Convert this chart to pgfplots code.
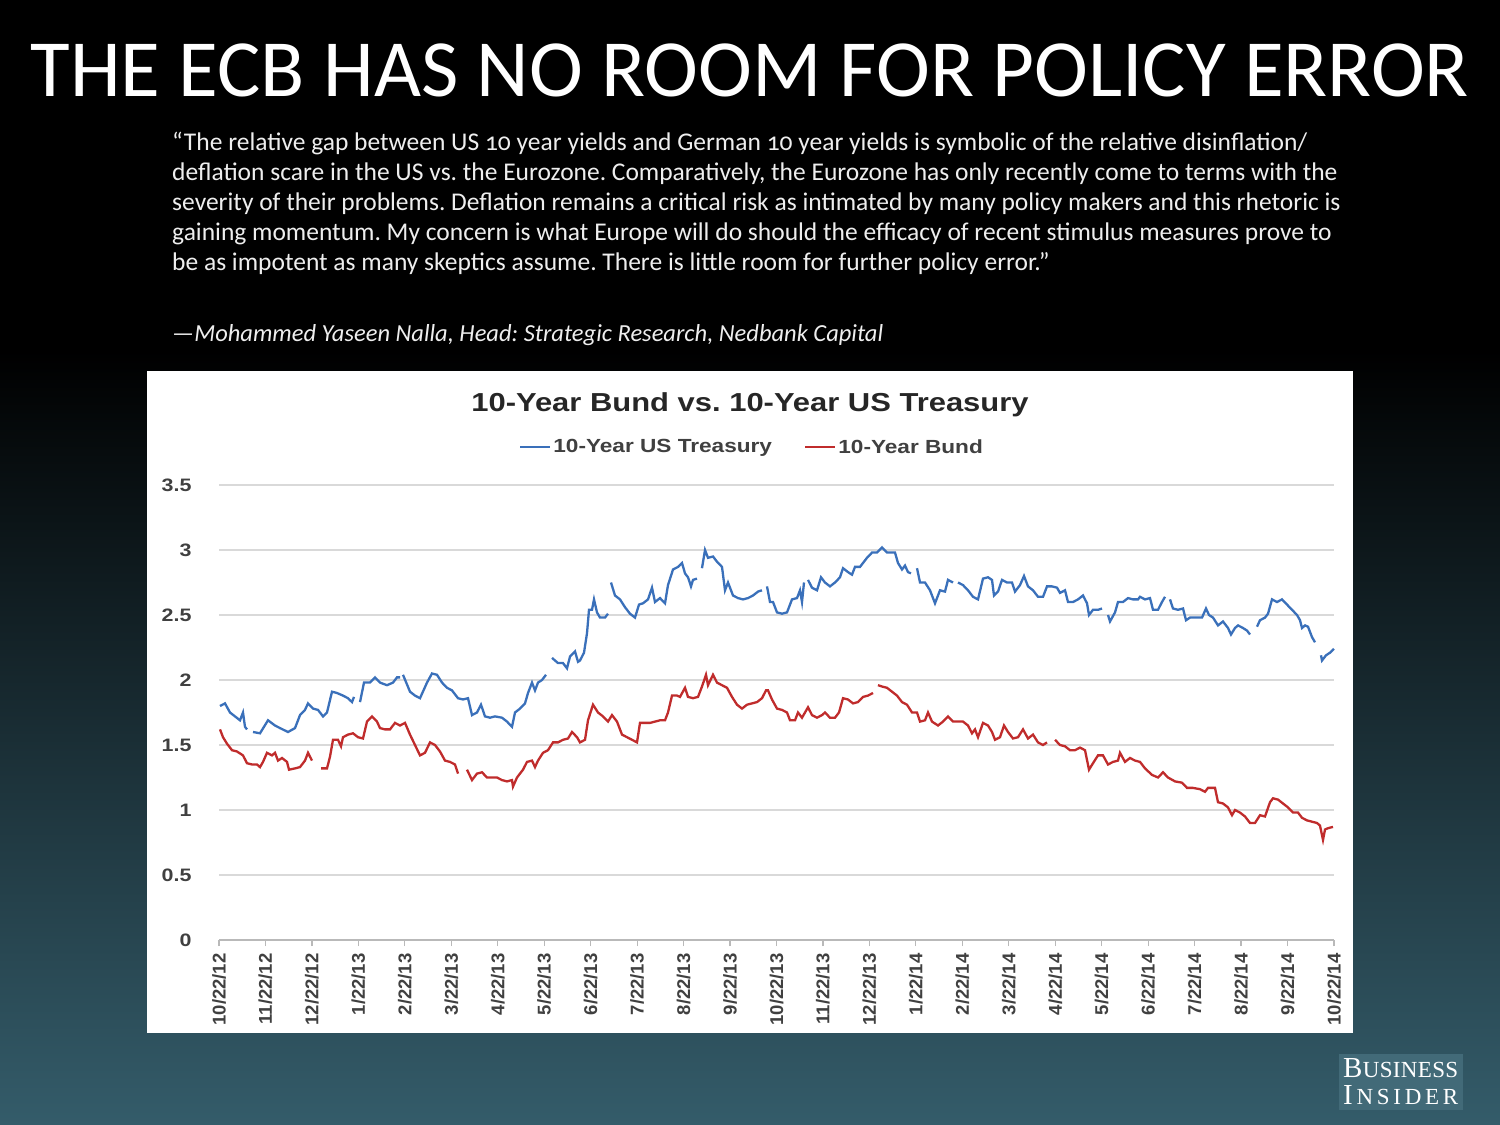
\documentclass[border=0pt]{standalone}
\usepackage{fontspec}
\setmainfont{Carlito}
\newfontfamily\quotefont{Carlito}[Numbers=OldStyle]
\newfontfamily\chartfont{Liberation Sans}[FakeStretch=1.19]
\newfontfamily\xfont{Liberation Sans}
\newfontfamily\bifont{Liberation Serif}
\usepackage{pgfplots}
\pgfplotsset{compat=1.18}
\definecolor{bgbottom}{RGB}{52,92,106}
\definecolor{logobox}{RGB}{66,106,120}
\definecolor{ustblue}{RGB}{58,112,186}
\definecolor{bundred}{RGB}{192,44,44}
\definecolor{textgray}{RGB}{64,64,64}
\definecolor{titlegray}{RGB}{38,38,38}
\definecolor{quotegray}{RGB}{238,238,238}
\frenchspacing
\begin{document}
\begin{tikzpicture}[x=1pt,y=1pt]
\fill[black] (0,0) rectangle (1500,1125);
\shade[top color=black,bottom color=bgbottom] (0,0) rectangle (1500,775);
\node[anchor=base, text=white, font=\fontsize{81.2}{81.2}\selectfont, inner sep=0] at (750,1028) {THE ECB HAS NO ROOM FOR POLICY ERROR};
\begin{scope}[every node/.style={anchor=base west, inner sep=0, text=quotegray, font=\quotefont\fontsize{25.5}{25.5}\selectfont}]
\node at (172,974) {“The relative gap between US 10 year yields and German 10 year yields is symbolic of the relative disinflation/};
\node at (172,944) {deflation scare in the US vs. the Eurozone. Comparatively, the Eurozone has only recently come to terms with the};
\node at (172,914) {severity of their problems. Deflation remains a critical risk as intimated by many policy makers and this rhetoric is};
\node at (172,884) {gaining momentum. My concern is what Europe will do should the efficacy of recent stimulus measures prove to};
\node at (172,854) {be as impotent as many skeptics assume. There is little room for further policy error.”};
\node[font=\quotefont\itshape\fontsize{24.5}{24.5}\selectfont] at (172,783) {—Mohammed Yaseen Nalla, Head: Strategic Research, Nedbank Capital};
\end{scope}
\fill[white] (147,92) rectangle (1353,754);
\node[anchor=base, inner sep=0, text=titlegray, font=\chartfont\bfseries\fontsize{26}{26}\selectfont] at (750,713) {10-Year Bund vs. 10-Year US Treasury};
\begin{axis}[
  at={(219pt,185pt)}, anchor=south west,
  scale only axis, width=1115pt, height=455pt,
  xmin=0, xmax=1115, ymin=0, ymax=3.5,
  ytick={0,0.5,1,1.5,2,2.5,3,3.5},
  xtick={0,46.4583,92.9167,139.375,185.8333,232.2917,278.75,325.2083,371.6667,418.125,464.5833,511.0417,557.5,603.9583,650.4167,696.875,743.3333,789.7917,836.25,882.7083,929.1667,975.625,1022.0833,1068.5417,1115},
  xticklabels={10/22/12,11/22/12,12/22/12,1/22/13,2/22/13,3/22/13,4/22/13,5/22/13,6/22/13,7/22/13,8/22/13,9/22/13,10/22/13,11/22/13,12/22/13,1/22/14,2/22/14,3/22/14,4/22/14,5/22/14,6/22/14,7/22/14,8/22/14,9/22/14,10/22/14},
  ymajorgrids, grid style={draw=gray!30, line width=1.2pt},
  axis x line*=bottom, axis y line*=left,
  x axis line style={draw=gray!55, line width=1.2pt},
  y axis line style={draw=none},
  tick align=outside, major tick length=6pt,
  xtick style={draw=gray!55, line width=1.2pt},
  ytick style={draw=none},
  /pgf/number format/assume math mode=true,
  yticklabel style={font=\chartfont\bfseries\fontsize{18}{18}\selectfont, text=textgray, xshift=-18pt},
  xticklabel shift=4pt,
  xticklabel style={rotate=90, anchor=east, font=\xfont\bfseries\fontsize{18.5}{18.5}\selectfont, text=textgray},
  unbounded coords=jump,
  clip=false,
  legend columns=2,
  legend style={at={(0.478,1.0835)}, anchor=center, draw=none, fill=none, font=\chartfont\bfseries\fontsize{19}{19}\selectfont, text=textgray, /tikz/every even column/.append style={column sep=30pt}},
  legend image code/.code={\draw[#1] (0pt,0pt) -- (30pt,0pt);},
]
\addplot[ustblue, line width=2.3pt] table {
x y
1 1.80
6 1.82
11 1.75
16 1.72
21 1.69
24 1.75
26 1.64
28 1.62
29 nan
34 1.60
41 1.59
49 1.69
56 1.65
61 1.63
69 1.60
76 1.63
81 1.73
86 1.77
89 1.82
94 1.78
99 1.77
104 1.72
108 1.75
113 1.91
118 1.90
124 1.88
129 1.86
133 1.83
135 1.87
137 nan
141 1.83
145 1.98
151 1.98
156 2.02
161 1.98
168 1.96
174 1.98
178 2.02
181 2.02
182 nan
184 2.04
191 1.91
196 1.88
201 1.86
208 1.98
213 2.05
218 2.04
223 1.98
228 1.94
233 1.92
239 1.86
244 1.85
249 1.86
253 1.73
258 1.75
262 1.81
266 1.72
271 1.71
276 1.72
283 1.71
288 1.68
293 1.64
296 1.75
301 1.78
306 1.82
309 1.90
313 1.98
316 1.92
319 1.98
323 2.00
327 2.04
330 nan
333 2.17
339 2.13
344 2.13
348 2.09
351 2.18
356 2.22
359 2.14
361 2.15
365 2.21
368 2.36
370 2.54
373 2.54
375 2.62
378 2.52
381 2.48
386 2.48
389 2.51
390 nan
392 2.75
396 2.65
401 2.62
406 2.56
411 2.51
416 2.48
420 2.58
424 2.59
429 2.62
433 2.71
436 2.60
441 2.63
446 2.59
449 2.73
454 2.85
459 2.87
463 2.90
466 2.82
469 2.79
472 2.72
474 2.77
478 2.78
480 nan
483 2.86
486 3.00
489 2.94
494 2.95
498 2.91
503 2.87
506 2.69
509 2.75
514 2.65
519 2.63
524 2.62
529 2.63
534 2.65
539 2.68
543 2.69
545 nan
548 2.72
551 2.60
554 2.60
558 2.52
563 2.51
568 2.52
573 2.62
578 2.63
581 2.69
583 2.60
585 2.75
587 nan
589 2.77
593 2.71
598 2.69
602 2.79
606 2.75
611 2.72
616 2.75
621 2.79
624 2.86
629 2.83
633 2.81
636 2.87
641 2.87
644 2.90
648 2.94
653 2.98
658 2.98
663 3.02
668 2.98
673 2.98
676 2.98
679 2.90
683 2.85
686 2.88
689 2.83
692 2.82
695 nan
698 2.86
701 2.75
706 2.75
711 2.69
716 2.59
721 2.69
726 2.68
729 2.77
734 2.75
736 nan
739 2.75
744 2.73
749 2.69
754 2.64
759 2.62
764 2.78
769 2.79
773 2.77
775 2.65
779 2.68
783 2.77
788 2.75
793 2.75
796 2.68
801 2.73
805 2.80
809 2.72
814 2.69
819 2.64
824 2.64
828 2.72
833 2.72
838 2.71
841 2.67
846 2.69
849 2.60
854 2.60
859 2.62
864 2.65
868 2.59
870 2.50
874 2.54
879 2.54
883 2.55
886 nan
889 2.50
891 2.45
896 2.52
899 2.60
904 2.60
909 2.63
914 2.62
919 2.62
921 2.64
926 2.62
931 2.63
934 2.54
939 2.54
943 2.60
946 2.64
948 nan
951 2.62
954 2.55
959 2.54
964 2.55
967 2.46
971 2.48
976 2.48
983 2.48
987 2.55
990 2.50
994 2.48
999 2.42
1004 2.45
1009 2.40
1012 2.35
1016 2.40
1019 2.42
1024 2.40
1028 2.38
1031 2.35
1034 nan
1038 2.41
1041 2.46
1046 2.48
1049 2.51
1053 2.62
1058 2.60
1063 2.62
1068 2.58
1073 2.54
1078 2.50
1081 2.46
1083 2.40
1086 2.42
1089 2.41
1093 2.33
1096 2.29
1099 nan
1102 2.19
1103 2.15
1107 2.19
1111 2.21
1115 2.24
};
\addlegendentry{10-Year US Treasury}
\addplot[bundred, line width=2.3pt] table {
x y
1 1.62
4 1.56
8 1.51
13 1.46
18 1.45
24 1.42
28 1.36
33 1.35
38 1.35
41 1.33
44 1.37
48 1.44
53 1.42
56 1.44
59 1.38
63 1.40
68 1.37
70 1.31
76 1.32
81 1.33
86 1.38
89 1.44
93 1.38
97 nan
102 1.32
108 1.32
111 1.41
114 1.54
119 1.54
122 1.49
124 1.56
129 1.58
134 1.59
139 1.56
144 1.55
148 1.68
153 1.72
158 1.68
161 1.63
166 1.62
171 1.62
176 1.67
181 1.65
186 1.67
191 1.58
196 1.50
201 1.42
206 1.44
211 1.52
216 1.50
221 1.45
226 1.38
231 1.37
236 1.35
239 1.28
243 nan
248 1.31
253 1.23
258 1.28
263 1.29
268 1.25
273 1.25
278 1.25
283 1.23
288 1.22
293 1.23
294 1.18
298 1.25
301 1.28
304 1.31
308 1.37
313 1.38
316 1.33
319 1.38
324 1.44
329 1.46
334 1.52
339 1.52
344 1.54
349 1.55
353 1.60
358 1.56
361 1.52
366 1.54
369 1.69
374 1.81
379 1.75
384 1.72
389 1.68
393 1.73
398 1.68
403 1.58
408 1.56
413 1.54
418 1.52
421 1.67
426 1.67
431 1.67
436 1.68
441 1.69
446 1.69
449 1.75
453 1.88
458 1.88
461 1.87
466 1.94
469 1.87
474 1.86
479 1.87
483 1.95
487 2.04
489 1.96
494 2.04
498 1.98
503 1.96
508 1.94
513 1.87
518 1.81
523 1.78
528 1.81
533 1.82
538 1.83
543 1.86
547 1.92
549 1.92
553 1.85
558 1.78
563 1.77
568 1.75
571 1.69
576 1.69
579 1.75
583 1.71
586 1.75
589 1.79
593 1.73
598 1.71
603 1.73
606 1.75
611 1.71
616 1.71
620 1.75
624 1.86
629 1.85
634 1.82
639 1.83
644 1.87
649 1.88
654 1.90
656 nan
659 1.96
663 1.95
668 1.94
673 1.91
678 1.88
683 1.83
688 1.81
693 1.75
698 1.75
701 1.68
706 1.69
709 1.75
713 1.68
719 1.65
724 1.68
729 1.72
734 1.68
738 1.68
744 1.68
749 1.65
753 1.59
756 1.62
759 1.56
764 1.67
769 1.65
773 1.60
776 1.54
781 1.56
785 1.65
789 1.60
794 1.55
799 1.56
804 1.62
809 1.55
814 1.58
819 1.52
824 1.50
828 1.52
831 nan
836 1.54
841 1.50
846 1.49
851 1.46
856 1.46
861 1.48
866 1.46
870 1.31
874 1.36
879 1.42
884 1.42
889 1.35
894 1.37
899 1.38
901 1.44
906 1.37
911 1.40
916 1.38
921 1.37
926 1.32
933 1.27
939 1.25
944 1.29
949 1.25
956 1.22
963 1.21
968 1.17
974 1.17
981 1.16
986 1.14
989 1.17
996 1.17
999 1.06
1004 1.05
1009 1.02
1013 0.96
1016 1.00
1021 0.98
1026 0.95
1031 0.90
1036 0.90
1041 0.96
1046 0.95
1051 1.06
1054 1.09
1059 1.08
1064 1.05
1069 1.02
1074 0.98
1079 0.98
1083 0.94
1088 0.92
1093 0.91
1098 0.90
1101 0.88
1104 0.77
1106 0.85
1109 0.86
1114 0.87
};
\addlegendentry{10-Year Bund}
\end{axis}
\fill[logobox] (1339,15) rectangle (1463,71);
\node[anchor=base west, inner sep=0, text depth=0pt, text=white, font=\bifont\fontsize{23}{23}\selectfont] at (1343,47)
  {\makebox[115pt][s]{{\fontsize{29}{29}\selectfont B}\hfill U\hfill S\hfill I\hfill N\hfill E\hfill S\hfill S}};
\node[anchor=base west, inner sep=0, text height=19pt, text depth=0pt, text=white, font=\bifont\fontsize{23}{23}\selectfont] at (1343,20)
  {\makebox[115pt][s]{{\fontsize{29}{29}\selectfont I}\hfill N\hfill S\hfill I\hfill D\hfill E\hfill R}};
\end{tikzpicture}
\end{document}
